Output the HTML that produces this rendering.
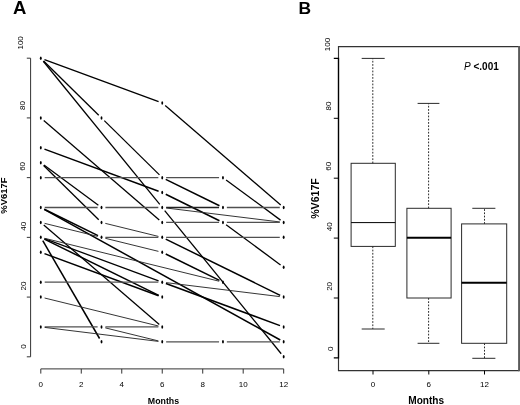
<!DOCTYPE html>
<html><head><meta charset="utf-8"><title>Figure</title>
<style>
html,body{margin:0;padding:0;background:#fff;}
body{width:520px;height:405px;overflow:hidden;font-family:"Liberation Sans",sans-serif;}
svg{display:block;filter:grayscale(1) blur(0.25px);font-family:"Liberation Sans",sans-serif;}
text{fill:#000;}
</style></head><body>
<svg width="520" height="405" viewBox="0 0 520 405">
<rect width="520" height="405" fill="#fff"/>
<g id="panelA">
<path d="M26.8 58.20 H30.6 V356.80 H26.8" fill="none" stroke="#333" stroke-width="1"/>
<line x1="26.8" y1="297.08" x2="30.6" y2="297.08" stroke="#333" stroke-width="1"/>
<line x1="26.8" y1="237.36" x2="30.6" y2="237.36" stroke="#333" stroke-width="1"/>
<line x1="26.8" y1="177.64" x2="30.6" y2="177.64" stroke="#333" stroke-width="1"/>
<line x1="26.8" y1="117.92" x2="30.6" y2="117.92" stroke="#333" stroke-width="1"/>
<path d="M40.80 373.6 V368.9 H283.68 V373.6" fill="none" stroke="#333" stroke-width="1"/>
<line x1="81.28" y1="368.9" x2="81.28" y2="373.6" stroke="#333" stroke-width="1"/>
<line x1="121.76" y1="368.9" x2="121.76" y2="373.6" stroke="#333" stroke-width="1"/>
<line x1="162.24" y1="368.9" x2="162.24" y2="373.6" stroke="#333" stroke-width="1"/>
<line x1="202.72" y1="368.9" x2="202.72" y2="373.6" stroke="#333" stroke-width="1"/>
<line x1="243.20" y1="368.9" x2="243.20" y2="373.6" stroke="#333" stroke-width="1"/>
<text transform="translate(23.20 42.90) rotate(-90)" text-anchor="middle" font-size="8" >100</text>
<text transform="translate(24.70 105.50) rotate(-90)" text-anchor="middle" font-size="8" >80</text>
<text transform="translate(25.30 166.40) rotate(-90)" text-anchor="middle" font-size="8" >60</text>
<text transform="translate(25.70 226.20) rotate(-90)" text-anchor="middle" font-size="8" >40</text>
<text transform="translate(25.80 286.00) rotate(-90)" text-anchor="middle" font-size="8" >20</text>
<text transform="translate(26.30 346.50) rotate(-90)" text-anchor="middle" font-size="8" >0</text>
<text x="40.80" y="387.0" text-anchor="middle" font-size="8">0</text>
<text x="81.28" y="387.0" text-anchor="middle" font-size="8">2</text>
<text x="121.76" y="387.0" text-anchor="middle" font-size="8">4</text>
<text x="162.24" y="387.0" text-anchor="middle" font-size="8">6</text>
<text x="202.72" y="387.0" text-anchor="middle" font-size="8">8</text>
<text x="243.20" y="387.0" text-anchor="middle" font-size="8">10</text>
<text x="283.68" y="387.0" text-anchor="middle" font-size="8">12</text>
<text x="163.5" y="404.2" text-anchor="middle" font-size="8.8" font-weight="bold">Months</text>
<text transform="translate(7.00 195.60) rotate(-90)" text-anchor="middle" font-size="9.45" font-weight="bold">%V617F</text>
<text x="12.9" y="13.8" font-size="18.5" font-weight="bold">A</text>
<line x1="44.46" y1="59.55" x2="158.58" y2="101.64" stroke="#000" stroke-width="1.28"/>
<line x1="165.20" y1="105.53" x2="280.72" y2="204.96" stroke="#000" stroke-width="1.28"/>
<line x1="43.58" y1="60.93" x2="98.74" y2="115.19" stroke="#000" stroke-width="1.28"/>
<line x1="104.30" y1="120.65" x2="159.46" y2="174.91" stroke="#000" stroke-width="1.28"/>
<line x1="43.26" y1="61.23" x2="159.78" y2="204.47" stroke="#000" stroke-width="1.28"/>
<line x1="164.70" y1="210.53" x2="281.22" y2="353.77" stroke="#000" stroke-width="1.28"/>
<line x1="43.76" y1="120.46" x2="159.28" y2="219.89" stroke="#000" stroke-width="1.28"/>
<line x1="44.46" y1="149.13" x2="158.58" y2="191.22" stroke="#000" stroke-width="1.50"/>
<line x1="165.74" y1="194.29" x2="219.46" y2="220.71" stroke="#000" stroke-width="1.50"/>
<line x1="226.10" y1="224.75" x2="280.54" y2="264.90" stroke="#000" stroke-width="1.28"/>
<line x1="43.94" y1="165.03" x2="98.38" y2="205.18" stroke="#000" stroke-width="1.28"/>
<line x1="43.58" y1="165.44" x2="98.74" y2="219.70" stroke="#000" stroke-width="1.28"/>
<line x1="44.70" y1="177.64" x2="158.34" y2="177.64" stroke="#505050" stroke-width="1.30"/>
<line x1="166.14" y1="177.64" x2="219.06" y2="177.64" stroke="#505050" stroke-width="1.30"/>
<line x1="226.10" y1="179.96" x2="280.54" y2="220.11" stroke="#000" stroke-width="1.28"/>
<line x1="165.74" y1="179.36" x2="219.46" y2="205.78" stroke="#000" stroke-width="1.50"/>
<line x1="44.70" y1="207.50" x2="97.62" y2="207.50" stroke="#505050" stroke-width="1.30"/>
<line x1="105.42" y1="207.50" x2="158.34" y2="207.50" stroke="#505050" stroke-width="1.30"/>
<line x1="166.14" y1="207.50" x2="219.06" y2="207.50" stroke="#222" stroke-width="1.60"/>
<line x1="226.86" y1="207.50" x2="279.78" y2="207.50" stroke="#505050" stroke-width="1.30"/>
<line x1="166.11" y1="207.98" x2="279.81" y2="221.95" stroke="#2a2a2a" stroke-width="0.95"/>
<line x1="44.30" y1="209.22" x2="98.02" y2="235.64" stroke="#000" stroke-width="1.50"/>
<line x1="44.21" y1="209.39" x2="280.27" y2="339.98" stroke="#000" stroke-width="1.50"/>
<line x1="44.59" y1="223.36" x2="97.73" y2="236.43" stroke="#2a2a2a" stroke-width="0.95"/>
<line x1="43.76" y1="224.97" x2="159.28" y2="324.40" stroke="#000" stroke-width="1.28"/>
<line x1="105.31" y1="223.36" x2="158.45" y2="236.43" stroke="#2a2a2a" stroke-width="0.95"/>
<line x1="105.42" y1="237.36" x2="158.34" y2="237.36" stroke="#505050" stroke-width="1.30"/>
<line x1="105.31" y1="238.29" x2="158.45" y2="251.36" stroke="#2a2a2a" stroke-width="0.95"/>
<line x1="166.14" y1="222.43" x2="219.06" y2="222.43" stroke="#505050" stroke-width="1.30"/>
<line x1="226.86" y1="222.43" x2="279.78" y2="222.43" stroke="#505050" stroke-width="1.30"/>
<line x1="166.14" y1="237.36" x2="279.78" y2="237.36" stroke="#505050" stroke-width="1.30"/>
<line x1="165.74" y1="239.08" x2="280.18" y2="295.36" stroke="#000" stroke-width="1.50"/>
<line x1="165.74" y1="254.01" x2="219.46" y2="280.43" stroke="#000" stroke-width="1.50"/>
<line x1="42.76" y1="240.73" x2="99.56" y2="338.50" stroke="#000" stroke-width="1.50"/>
<line x1="44.30" y1="239.08" x2="158.74" y2="295.36" stroke="#000" stroke-width="1.50"/>
<line x1="44.46" y1="253.64" x2="158.58" y2="295.73" stroke="#000" stroke-width="1.50"/>
<line x1="44.46" y1="238.71" x2="158.58" y2="280.80" stroke="#000" stroke-width="1.28"/>
<line x1="44.59" y1="238.29" x2="219.17" y2="281.22" stroke="#2a2a2a" stroke-width="0.95"/>
<line x1="44.70" y1="282.15" x2="158.34" y2="282.15" stroke="#505050" stroke-width="1.30"/>
<line x1="166.11" y1="282.63" x2="279.81" y2="296.60" stroke="#2a2a2a" stroke-width="0.95"/>
<line x1="165.90" y1="283.50" x2="280.02" y2="325.59" stroke="#000" stroke-width="1.50"/>
<line x1="44.59" y1="298.01" x2="158.45" y2="326.01" stroke="#2a2a2a" stroke-width="0.95"/>
<line x1="44.70" y1="326.94" x2="97.62" y2="326.94" stroke="#505050" stroke-width="1.30"/>
<line x1="105.42" y1="326.94" x2="158.34" y2="326.94" stroke="#505050" stroke-width="1.30"/>
<line x1="44.67" y1="327.42" x2="158.37" y2="341.39" stroke="#2a2a2a" stroke-width="0.95"/>
<line x1="105.31" y1="327.87" x2="158.45" y2="340.94" stroke="#2a2a2a" stroke-width="0.95"/>
<line x1="166.14" y1="341.87" x2="219.06" y2="341.87" stroke="#505050" stroke-width="1.30"/>
<line x1="226.86" y1="341.87" x2="279.78" y2="341.87" stroke="#505050" stroke-width="1.30"/>
<ellipse cx="40.80" cy="326.94" rx="0.95" ry="1.75" fill="#000"/>
<ellipse cx="40.80" cy="297.08" rx="0.95" ry="1.75" fill="#000"/>
<ellipse cx="40.80" cy="282.15" rx="0.95" ry="1.75" fill="#000"/>
<ellipse cx="40.80" cy="252.29" rx="0.95" ry="1.75" fill="#000"/>
<ellipse cx="40.80" cy="237.36" rx="0.95" ry="1.75" fill="#000"/>
<ellipse cx="40.80" cy="222.43" rx="0.95" ry="1.75" fill="#000"/>
<ellipse cx="40.80" cy="207.50" rx="0.95" ry="1.75" fill="#000"/>
<ellipse cx="40.80" cy="177.64" rx="0.95" ry="1.75" fill="#000"/>
<ellipse cx="40.80" cy="162.71" rx="0.95" ry="1.75" fill="#000"/>
<ellipse cx="40.80" cy="147.78" rx="0.95" ry="1.75" fill="#000"/>
<ellipse cx="40.80" cy="117.92" rx="0.95" ry="1.75" fill="#000"/>
<ellipse cx="40.80" cy="58.20" rx="0.95" ry="1.75" fill="#000"/>
<ellipse cx="101.52" cy="341.87" rx="0.95" ry="1.75" fill="#000"/>
<ellipse cx="101.52" cy="326.94" rx="0.95" ry="1.75" fill="#000"/>
<ellipse cx="101.52" cy="237.36" rx="0.95" ry="1.75" fill="#000"/>
<ellipse cx="101.52" cy="222.43" rx="0.95" ry="1.75" fill="#000"/>
<ellipse cx="101.52" cy="207.50" rx="0.95" ry="1.75" fill="#000"/>
<ellipse cx="101.52" cy="117.92" rx="0.95" ry="1.75" fill="#000"/>
<ellipse cx="162.24" cy="341.87" rx="0.95" ry="1.75" fill="#000"/>
<ellipse cx="162.24" cy="326.94" rx="0.95" ry="1.75" fill="#000"/>
<ellipse cx="162.24" cy="297.08" rx="0.95" ry="1.75" fill="#000"/>
<ellipse cx="162.24" cy="282.15" rx="0.95" ry="1.75" fill="#000"/>
<ellipse cx="162.24" cy="252.29" rx="0.95" ry="1.75" fill="#000"/>
<ellipse cx="162.24" cy="237.36" rx="0.95" ry="1.75" fill="#000"/>
<ellipse cx="162.24" cy="222.43" rx="0.95" ry="1.75" fill="#000"/>
<ellipse cx="162.24" cy="207.50" rx="0.95" ry="1.75" fill="#000"/>
<ellipse cx="162.24" cy="192.57" rx="0.95" ry="1.75" fill="#000"/>
<ellipse cx="162.24" cy="177.64" rx="0.95" ry="1.75" fill="#000"/>
<ellipse cx="162.24" cy="102.99" rx="0.95" ry="1.75" fill="#000"/>
<ellipse cx="222.96" cy="341.87" rx="0.95" ry="1.75" fill="#000"/>
<ellipse cx="222.96" cy="282.15" rx="0.95" ry="1.75" fill="#000"/>
<ellipse cx="222.96" cy="222.43" rx="0.95" ry="1.75" fill="#000"/>
<ellipse cx="222.96" cy="207.50" rx="0.95" ry="1.75" fill="#000"/>
<ellipse cx="222.96" cy="177.64" rx="0.95" ry="1.75" fill="#000"/>
<ellipse cx="283.68" cy="356.80" rx="0.95" ry="1.75" fill="#000"/>
<ellipse cx="283.68" cy="341.87" rx="0.95" ry="1.75" fill="#000"/>
<ellipse cx="283.68" cy="326.94" rx="0.95" ry="1.75" fill="#000"/>
<ellipse cx="283.68" cy="297.08" rx="0.95" ry="1.75" fill="#000"/>
<ellipse cx="283.68" cy="267.22" rx="0.95" ry="1.75" fill="#000"/>
<ellipse cx="283.68" cy="237.36" rx="0.95" ry="1.75" fill="#000"/>
<ellipse cx="283.68" cy="222.43" rx="0.95" ry="1.75" fill="#000"/>
<ellipse cx="283.68" cy="207.50" rx="0.95" ry="1.75" fill="#000"/>
</g>
<g id="panelB">
<path d="M519.2 46.6 H338.5 V370.6 H519.2" fill="none" stroke="#333" stroke-width="1.15"/>
<line x1="519.2" y1="46" x2="519.2" y2="371.2" stroke="#5a5a5a" stroke-width="2.2"/>
<path d="M333.8 58.40 H338.5 V357.90 H333.8" fill="none" stroke="#000" stroke-width="1.3"/>
<line x1="333.8" y1="298.00" x2="338.5" y2="298.00" stroke="#000" stroke-width="1"/>
<line x1="333.8" y1="238.10" x2="338.5" y2="238.10" stroke="#000" stroke-width="1"/>
<line x1="333.8" y1="178.20" x2="338.5" y2="178.20" stroke="#000" stroke-width="1"/>
<line x1="333.8" y1="118.30" x2="338.5" y2="118.30" stroke="#000" stroke-width="1"/>
<text transform="translate(330.30 44.60) rotate(-90)" text-anchor="middle" font-size="8" >100</text>
<text transform="translate(331.00 106.00) rotate(-90)" text-anchor="middle" font-size="8" >80</text>
<text transform="translate(331.40 166.30) rotate(-90)" text-anchor="middle" font-size="8" >60</text>
<text transform="translate(331.80 226.70) rotate(-90)" text-anchor="middle" font-size="8" >40</text>
<text transform="translate(332.10 286.40) rotate(-90)" text-anchor="middle" font-size="8" >20</text>
<text transform="translate(333.20 348.70) rotate(-90)" text-anchor="middle" font-size="8" >0</text>
<line x1="373.00" y1="370.6" x2="373.00" y2="374.5" stroke="#000" stroke-width="1"/>
<line x1="428.80" y1="370.6" x2="428.80" y2="374.5" stroke="#000" stroke-width="1"/>
<line x1="484.50" y1="370.6" x2="484.50" y2="374.5" stroke="#000" stroke-width="1"/>
<text x="373.00" y="387.2" text-anchor="middle" font-size="8">0</text>
<text x="428.80" y="387.2" text-anchor="middle" font-size="8">6</text>
<text x="484.50" y="387.2" text-anchor="middle" font-size="8">12</text>
<text x="426.2" y="403.9" text-anchor="middle" font-size="10.1" font-weight="bold">Months</text>
<text transform="translate(319.20 198.50) rotate(-90)" text-anchor="middle" font-size="10.6" font-weight="bold">%V617F</text>
<text transform="translate(298.6 13.6) scale(1.09 1)" font-size="16" font-weight="bold">B</text>
<text x="464" y="69.8" font-size="10"><tspan font-style="italic">P</tspan> <tspan font-weight="bold">&lt;.001</tspan></text>
<rect x="351.10" y="163.30" width="44.20" height="83.10" fill="none" stroke="#2a2a2a" stroke-width="1"/>
<line x1="351.10" y1="222.60" x2="395.30" y2="222.60" stroke="#000" stroke-width="1.00"/>
<line x1="372.80" y1="163.30" x2="372.80" y2="58.40" stroke="#2a2a2a" stroke-width="1" stroke-dasharray="1.75 1.5"/>
<line x1="372.80" y1="246.40" x2="372.80" y2="329.00" stroke="#2a2a2a" stroke-width="1" stroke-dasharray="1.75 1.5"/>
<line x1="361.70" y1="58.40" x2="384.70" y2="58.40" stroke="#2a2a2a" stroke-width="1"/>
<line x1="361.70" y1="329.00" x2="384.70" y2="329.00" stroke="#2a2a2a" stroke-width="1"/>
<rect x="406.90" y="208.30" width="44.20" height="89.70" fill="none" stroke="#2a2a2a" stroke-width="1"/>
<line x1="406.90" y1="237.80" x2="451.10" y2="237.80" stroke="#000" stroke-width="2.00"/>
<line x1="428.60" y1="208.30" x2="428.60" y2="103.40" stroke="#2a2a2a" stroke-width="1" stroke-dasharray="1.75 1.5"/>
<line x1="428.60" y1="298.00" x2="428.60" y2="343.30" stroke="#2a2a2a" stroke-width="1" stroke-dasharray="1.75 1.5"/>
<line x1="417.60" y1="103.40" x2="439.40" y2="103.40" stroke="#2a2a2a" stroke-width="1"/>
<line x1="417.60" y1="343.30" x2="439.40" y2="343.30" stroke="#2a2a2a" stroke-width="1"/>
<rect x="461.60" y="223.90" width="45.10" height="119.40" fill="none" stroke="#2a2a2a" stroke-width="1"/>
<line x1="461.60" y1="282.70" x2="506.70" y2="282.70" stroke="#000" stroke-width="2.00"/>
<line x1="484.50" y1="223.90" x2="484.50" y2="208.30" stroke="#2a2a2a" stroke-width="1" stroke-dasharray="1.75 1.5"/>
<line x1="484.50" y1="343.30" x2="484.50" y2="358.30" stroke="#2a2a2a" stroke-width="1" stroke-dasharray="1.75 1.5"/>
<line x1="472.30" y1="208.30" x2="495.40" y2="208.30" stroke="#2a2a2a" stroke-width="1"/>
<line x1="472.30" y1="358.30" x2="495.40" y2="358.30" stroke="#2a2a2a" stroke-width="1"/>
</g>
</svg>
</body></html>
